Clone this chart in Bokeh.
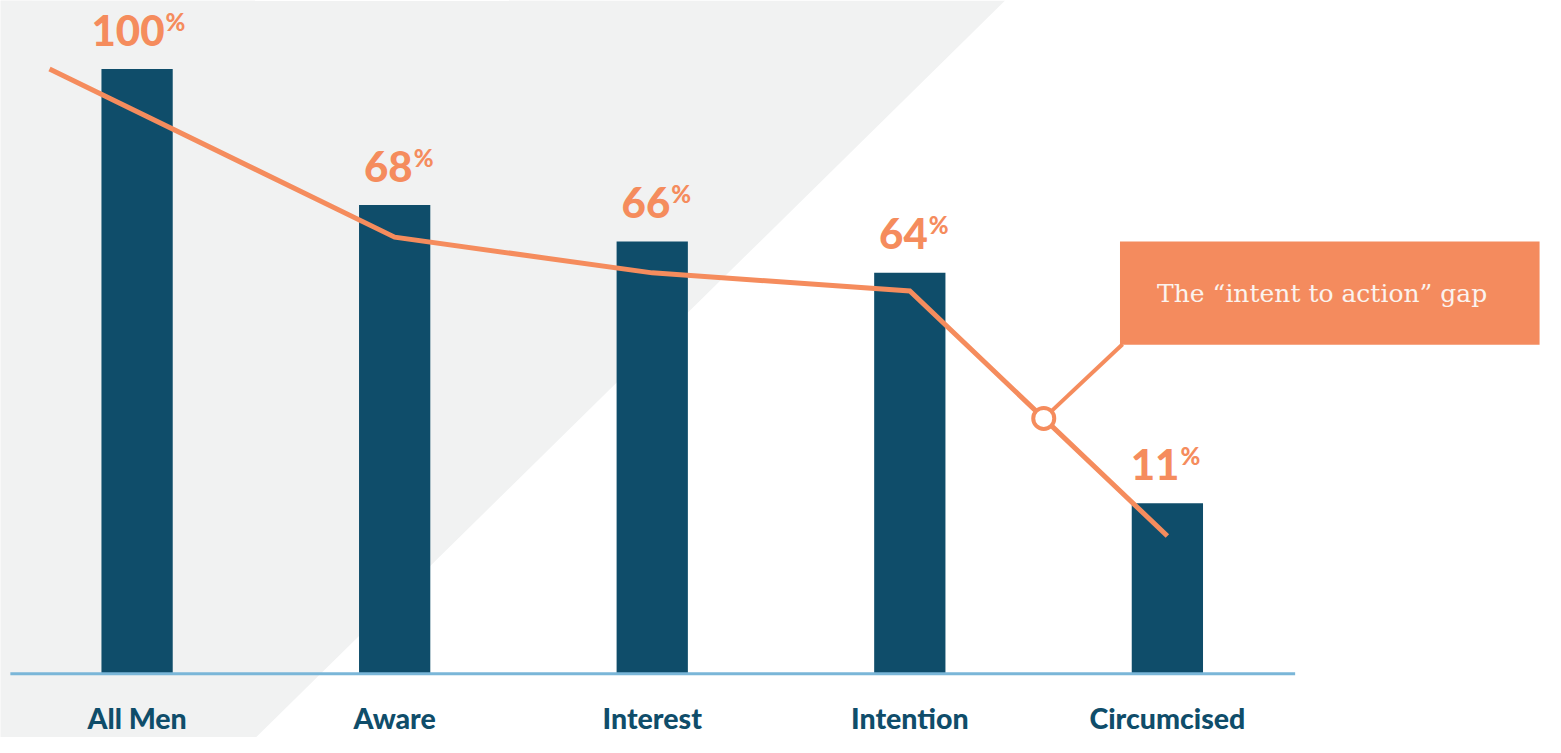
from bokeh.plotting import figure
from bokeh.models import Range1d, ColumnDataSource
from bokeh.embed import file_html
from bokeh.resources import INLINE
from bokeh.core.properties import value

# ---- data ----
categories = ["All Men", "Aware", "Interest", "Intention", "Circumcised"]
pct_labels = [100, 68, 66, 64, 11]
bar_heights = [100, 77.5, 71.5, 66.3, 28.2]          # bar tops as drawn
trend_x = [-0.34, 1, 2, 3, 4]
trend_y = [100, 72.2, 66.3, 63.3, 22.8]
callout_text = "The \u201cintent to action\u201d gap"

NAVY = "#0F4D6A"
ORANGE = "#F58C5D"
BOX = "#F48B5E"
BG = "#F1F2F2"
AXIS = "#7AB6D8"
HEAVY = value("Lato Black, Lato")

W, H = 1545, 737
p = figure(width=W, height=H, output_backend="svg", toolbar_location=None,
           x_range=Range1d(-0.5303, 5.468), y_range=Range1d(-10.52, 111.33),
           x_axis_location=None, y_axis_location=None, min_border=0,
           background_fill_color="white", border_fill_color="white")
p.outline_line_color = None
p.xgrid.visible = False
p.ygrid.visible = False

# diagonal background panel
p.patch([-0.7, 3.37, 0.461, -0.7], [111.4, 111.33, -10.52, -10.52],
        fill_color=BG, line_color=None)

idx = list(range(len(categories)))
bar_w = 0.2767
p.vbar(x=idx, top=bar_heights, bottom=0, width=bar_w, fill_color=NAVY, line_color=None)

# baseline
p.line([-0.492, 4.496], [0, 0], line_color=AXIS, line_width=3)

# trend line
p.line(trend_x, trend_y, line_color=ORANGE, line_width=5, line_join="miter")

# gap marker and callout
t = 0.52
gx = trend_x[3] + t * (trend_x[4] - trend_x[3])
gy = trend_y[3] + t * (trend_y[4] - trend_y[3])
box_l, box_r, box_b, box_t = 3.816, 5.445, 54.4, 71.5
p.line([gx, box_l + 0.01], [gy, box_b + 0.1], line_color=ORANGE, line_width=4)
p.scatter(x=[gx], y=[gy], size=21, fill_color="white", line_color=ORANGE, line_width=4)
p.quad(left=[box_l], right=[box_r], bottom=[box_b], top=[box_t], fill_color=BOX, line_color=None)
p.text(x=[3.96], y=[(box_b + box_t) / 2], text=[callout_text], text_color="#FBF3EE",
       text_font=value("DejaVu Serif"), text_font_size="25px",
       text_baseline="middle", text_align="left")

# percentage labels
def est_width(s):
    return sum(19 if ch == "1" else 25 for ch in s)

num_txt = [str(v) for v in pct_labels]
right_off = [-7 + est_width(s) / 2 for s in num_txt]
src = ColumnDataSource(dict(x=idx, y=bar_heights, t=num_txt,
                            xo=right_off, xp=[r + 1 for r in right_off], pc=["%"] * len(idx)))
p.text(x="x", y="y", text="t", source=src, x_offset="xo", y_offset=-39,
       text_align="right", text_baseline="alphabetic", text_color=ORANGE,
       text_font=HEAVY, text_font_style="bold", text_font_size="42px")
p.text(x="x", y="y", text="pc", source=src, x_offset="xp", y_offset=-48,
       text_align="left", text_baseline="alphabetic", text_color=ORANGE,
       text_font=HEAVY, text_font_style="bold", text_font_size="24px")

# category labels
p.text(x=idx, y=[-7.3] * len(idx), text=categories, text_align="center",
       text_baseline="alphabetic", text_color=NAVY, text_font=HEAVY,
       text_font_style="bold", text_font_size="28.5px")

open("out.html", "w").write(file_html(p, INLINE))
